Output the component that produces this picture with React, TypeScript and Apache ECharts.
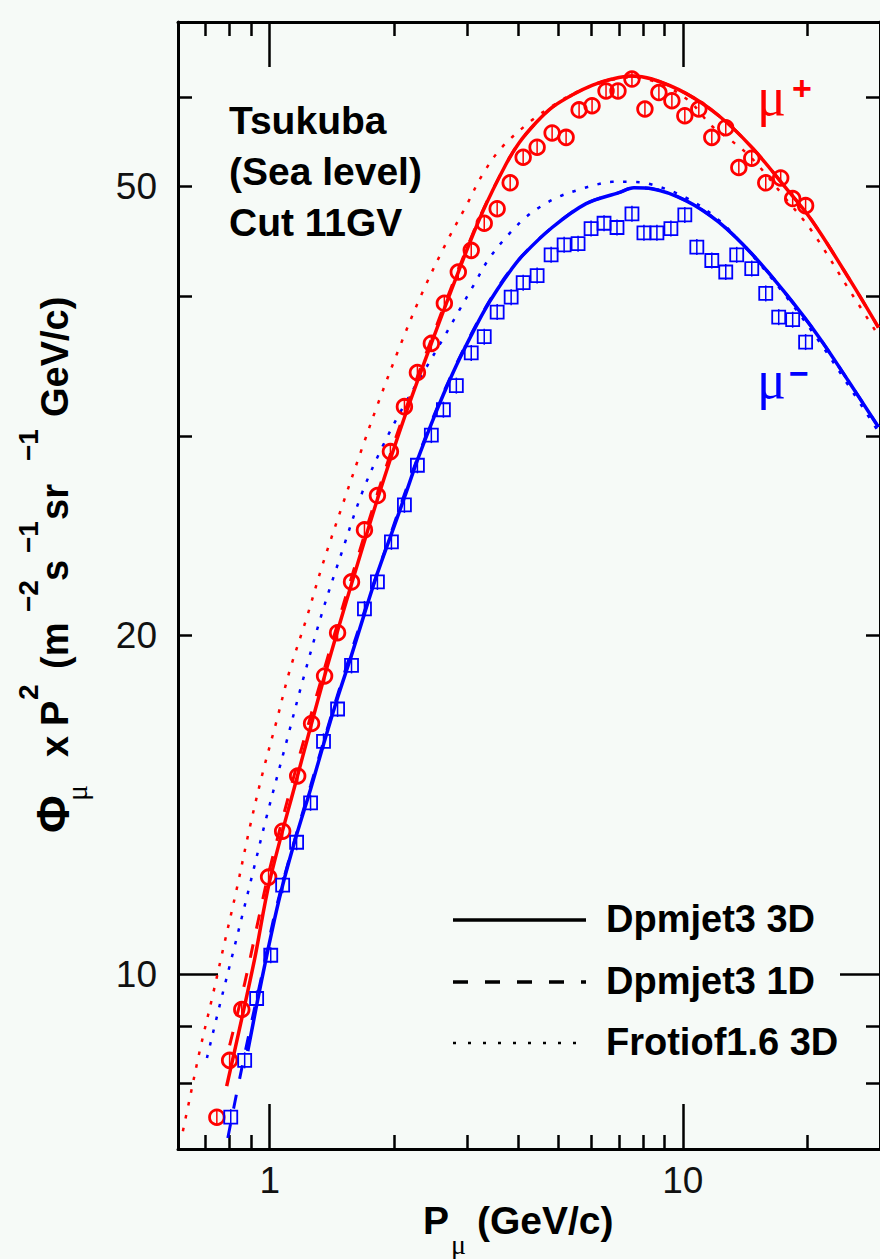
import React, { useEffect, useRef } from 'react';
import * as echarts from 'echarts';

const SANS = '"Liberation Sans", Arial, Helvetica, sans-serif';
const SERIF = '"Liberation Serif", "DejaVu Serif", serif';
const RED = '#ff0000';
const BLUE = '#0000ff';
const BG = '#f6faf7';

// ---- measured data points (momentum GeV/c, flux x P^2) ----
const P_MU_PLUS = [0.745, 0.800, 0.856, 0.994, 1.075, 1.169, 1.263, 1.358, 1.460, 1.578, 1.696, 1.823, 1.960, 2.119, 2.278, 2.462, 2.647, 2.861, 3.075, 3.306, 3.553, 3.820, 4.107, 4.439, 4.826, 5.217, 5.609, 6.029, 6.517, 6.966, 7.530, 8.095, 8.750, 9.407, 10.11, 10.93, 11.75, 12.70, 13.66, 14.68, 15.87, 17.25, 18.44, 19.82];
const FLUX_MU_PLUS = [7.47, 8.39, 9.31, 12.2, 13.4, 15.0, 16.7, 18.4, 20.1, 22.3, 24.8, 26.6, 29.1, 31.9, 34.2, 36.3, 39.4, 42.0, 43.9, 46.4, 47.8, 50.4, 53.1, 54.2, 55.8, 55.3, 58.5, 59.0, 60.8, 60.8, 62.3, 58.6, 60.6, 59.6, 57.8, 58.6, 55.3, 56.4, 52.0, 53.0, 50.4, 50.9, 48.8, 48.1];

const P_MU_MINUS = [0.805, 0.870, 0.930, 1.006, 1.075, 1.162, 1.256, 1.350, 1.460, 1.578, 1.696, 1.823, 1.971, 2.119, 2.278, 2.462, 2.633, 2.830, 3.075, 3.306, 3.553, 3.841, 4.107, 4.439, 4.799, 5.160, 5.577, 5.996, 6.445, 6.928, 7.530, 8.050, 8.654, 9.355, 10.11, 10.81, 11.75, 12.70, 13.50, 14.68, 15.87, 17.06, 18.44, 19.82];
const FLUX_MU_MINUS = [7.47, 8.39, 9.52, 10.4, 12.0, 13.1, 14.2, 16.1, 17.2, 18.8, 21.1, 22.3, 24.2, 26.1, 28.3, 30.1, 31.7, 33.3, 35.6, 36.8, 38.7, 39.9, 41.1, 41.7, 43.5, 44.4, 44.5, 45.9, 46.4, 46.0, 47.3, 45.5, 45.5, 45.9, 47.2, 44.2, 43.0, 42.0, 43.5, 42.3, 40.2, 38.3, 38.1, 36.4];

// ---- model curves ----
const DPM3D_PLUS_P = [0.787, 0.846, 0.920, 1.0, 1.162, 1.358, 1.578, 1.823, 2.119, 2.462, 2.861, 3.269, 3.737, 4.017, 4.415, 4.826, 5.394, 6.029, 6.738, 7.487, 8.417, 10.17, 12.22, 14.68, 17.73, 20.49, 25.60, 29.74];
const DPM3D_PLUS_FLUX = [7.96, 8.96, 10.33, 12.1, 14.9, 18.4, 22.2, 26.4, 31.2, 36.3, 42.0, 47.4, 52.4, 54.7, 57.0, 58.8, 60.3, 61.5, 62.3, 62.7, 62.3, 60.5, 57.8, 54.2, 49.9, 46.7, 41.1, 37.5];

const DPM1D_PLUS_P = [0.800, 0.870, 0.935, 1.0, 1.162, 1.358, 1.578, 1.823, 2.119, 2.462, 2.861, 3.269, 3.737, 4.017, 4.415, 4.826, 5.394, 6.029, 6.738, 7.487, 8.417, 10.17, 12.22, 14.68, 17.73, 20.49, 25.60, 29.74];
const DPM1D_PLUS_FLUX = [8.65, 9.82, 11.1, 12.4, 15.3, 18.7, 22.5, 26.7, 31.5, 36.6, 42.2, 47.5, 52.4, 54.7, 57.0, 58.8, 60.3, 61.5, 62.3, 62.7, 62.3, 60.5, 57.8, 54.2, 49.9, 46.7, 41.1, 37.5];

const FRI_PLUS_P = [0.6165, 0.641, 0.678, 0.728, 0.770, 0.832, 0.895, 0.962, 1.040, 1.118, 1.228, 1.343, 1.501, 1.668, 1.823, 2.061, 2.329, 2.677, 2.991, 3.269, 3.633, 4.294, 4.880, 5.609, 6.627, 7.530, 8.750, 10.34, 11.75, 13.13, 14.68, 17.73, 20.49, 25.60, 29.74];
const FRI_PLUS_FLUX = [7.26, 7.77, 8.57, 9.58, 10.5, 11.9, 13.5, 15.1, 16.8, 18.6, 20.7, 23.1, 26.1, 29.2, 32.0, 36.0, 40.1, 44.6, 48.1, 51.2, 54.1, 57.2, 59.1, 60.8, 62.1, 62.5, 61.8, 59.6, 56.6, 54.9, 53.0, 48.8, 45.7, 40.2, 36.9];

const DPM3D_MINUS_P = [0.885, 0.956, 1.028, 1.075, 1.162, 1.256, 1.350, 1.460, 1.578, 1.696, 1.823, 1.971, 2.119, 2.278, 2.462, 2.633, 2.830, 3.075, 3.306, 3.553, 3.841, 4.107, 4.826, 5.832, 7.004, 7.613, 8.417, 10.17, 12.22, 14.68, 17.73, 21.31, 25.18, 29.74];
const DPM3D_MINUS_FLUX = [8.55, 9.88, 11.2, 12.0, 13.3, 14.6, 16.0, 17.6, 19.2, 20.9, 22.7, 24.6, 26.5, 28.6, 30.8, 32.7, 34.7, 36.9, 38.8, 40.5, 42.2, 43.5, 46.0, 48.3, 49.4, 49.9, 49.8, 48.6, 46.5, 43.6, 40.2, 36.8, 33.6, 30.6];

const DPM1D_MINUS_P = [0.792, 0.837, 0.895, 0.956, 1.028, 1.118, 1.256, 1.460, 1.696, 1.971, 2.278, 2.633, 3.075, 3.553, 4.107, 4.826, 5.832, 7.004, 7.613, 8.417, 10.17, 12.22, 14.68, 17.73, 21.31, 25.18, 29.74];
const DPM1D_MINUS_FLUX = [7.16, 7.93, 8.92, 9.96, 11.3, 12.7, 14.7, 17.7, 21.0, 24.7, 28.7, 32.8, 37.0, 40.6, 43.5, 46.0, 48.3, 49.4, 49.9, 49.8, 48.6, 46.5, 43.6, 40.2, 36.8, 33.6, 30.6];

const FRI_MINUS_P = [0.705, 0.757, 0.823, 0.895, 0.983, 1.099, 1.201, 1.343, 1.501, 1.677, 1.875, 2.096, 2.342, 2.617, 2.877, 3.127, 3.400, 3.798, 4.176, 4.564, 5.018, 5.609, 6.165, 6.738, 7.406, 8.278, 10.17, 12.22, 14.68, 17.73, 21.31, 25.18, 29.74];
const FRI_MINUS_FLUX = [8.43, 9.39, 10.6, 12.0, 13.8, 16.1, 18.2, 21.0, 23.8, 26.8, 29.4, 31.8, 34.1, 36.55, 38.85, 40.97, 43.2, 45.4, 47.0, 48.1, 49.0, 49.7, 50.2, 50.5, 50.5, 50.3, 48.9, 46.7, 43.5, 40.0, 36.5, 33.3, 30.3];

// ---- axes ----
const X_MIN = 0.6;
const X_MAX = 30;
const Y_MIN = 7;
const Y_MAX = 70;
const X_MAJOR_TICKS = [1, 10];
const X_MINOR_TICKS = [0.7, 0.8, 0.9, 2, 3, 4, 5, 6, 7, 8, 9, 20];
const X_LABELS = [1, 10];
const Y_MAJOR_TICKS = [10];
const Y_MINOR_TICKS = [8, 9, 20, 30, 40, 50, 60];
const Y_LABELS = [10, 20, 50];

const LEGEND_NAMES = ['Dpmjet3 3D', 'Dpmjet3 1D', 'Frotiof1.6 3D'];
const INFO_LINES = ['Tsukuba', '(Sea level)', 'Cut 11GV'];

const pairs = (xs: number[], ys: number[]) => xs.map((x, i) => [x, ys[i]]);

function txt(x: number, y: number, text: string, size: number, opts: any = {}) {
  return {
    type: 'text',
    x,
    y,
    silent: true,
    style: {
      text,
      fontSize: size,
      fontWeight: opts.weight || 'bold',
      fontFamily: opts.family || SANS,
      fill: opts.color || '#000',
      align: opts.align || 'left',
      verticalAlign: 'middle',
      textAlign: opts.align || 'left',
      textVerticalAlign: 'middle',
    },
  };
}

function xAxisDef(position: 'top' | 'bottom', major: boolean, withLabels: boolean) {
  return {
    type: 'log',
    logBase: 10,
    gridIndex: 0,
    position,
    min: X_MIN,
    max: X_MAX,
    splitLine: { show: false },
    minorTick: { show: false },
    axisLine: { show: major, onZero: false, lineStyle: { color: '#000', width: 3 } },
    axisTick: {
      show: true,
      inside: true,
      length: major ? 45 : 14,
      lineStyle: { color: '#000', width: 2.5 },
      customValues: major ? X_MAJOR_TICKS : X_MINOR_TICKS,
    },
    axisLabel: withLabels
      ? {
          show: true,
          customValues: X_LABELS,
          formatter: (v: number) => String(v),
          fontSize: 37,
          fontFamily: SANS,
          color: '#111',
          margin: 13,
        }
      : { show: false },
  };
}

function yAxisDef(position: 'left' | 'right', major: boolean, withLabels: boolean) {
  return {
    type: 'log',
    logBase: 10,
    gridIndex: 0,
    position,
    min: Y_MIN,
    max: Y_MAX,
    splitLine: { show: false },
    minorTick: { show: false },
    axisLine: { show: major, onZero: false, lineStyle: { color: '#000', width: 3 } },
    axisTick: {
      show: true,
      inside: true,
      length: major ? 40 : 14,
      lineStyle: { color: '#000', width: 2.5 },
      customValues: major ? Y_MAJOR_TICKS : Y_MINOR_TICKS,
    },
    axisLabel: withLabels
      ? {
          show: true,
          customValues: Y_LABELS,
          formatter: (v: number) => String(v),
          fontSize: 37,
          fontFamily: SANS,
          color: '#111',
          margin: 21,
        }
      : { show: false },
  };
}

function curve(xs: number[], ys: number[], color: string, kind: 'solid' | 'dashed' | 'dotted') {
  const type = kind === 'solid' ? 'solid' : kind === 'dashed' ? [14, 16] : [3.5, 9.5];
  const width = kind === 'solid' ? 3.5 : kind === 'dashed' ? 3 : 2.5;
  return {
    type: 'line',
    xAxisIndex: 0,
    yAxisIndex: 0,
    data: pairs(xs, ys),
    smooth: 0.35,
    symbol: 'none',
    showSymbol: false,
    silent: true,
    z: 2,
    lineStyle: { color, width, type, cap: 'butt' },
  };
}

function markers(xs: number[], ys: number[], color: string, shape: 'circle' | 'square') {
  return {
    type: 'custom',
    xAxisIndex: 0,
    yAxisIndex: 0,
    data: pairs(xs, ys),
    silent: true,
    z: 3,
    encode: { x: 0, y: 1 },
    renderItem: (_params: any, api: any) => {
      const c = api.coord([api.value(0), api.value(1)]);
      const body =
        shape === 'circle'
          ? { type: 'circle', shape: { cx: c[0], cy: c[1], r: 7.3 }, style: { fill: 'none', stroke: color, lineWidth: 2.8 } }
          : { type: 'rect', shape: { x: c[0] - 6.5, y: c[1] - 6.5, width: 13, height: 13 }, style: { fill: 'none', stroke: color, lineWidth: 1.8 } };
      return {
        type: 'group',
        children: [
          body,
          { type: 'line', shape: { x1: c[0], y1: c[1] - 8, x2: c[0], y2: c[1] + 8 }, style: { stroke: color, lineWidth: 1.5 } },
        ],
      };
    },
  };
}

export default function App() {
  const ref = useRef<HTMLDivElement>(null);

  useEffect(() => {
    if (!ref.current) return;
    const chart = echarts.init(ref.current, null, { renderer: 'svg' });

    // y-axis title pieces placed along rotated baseline (local x: along text, local y: below baseline)
    const yTitle = {
      type: 'group',
      x: 68,
      y: 833,
      rotation: Math.PI / 2,
      silent: true,
      children: [
        txt(0, -15, 'Φ', 46),
        txt(32, 8, 'μ', 30, { family: SERIF, weight: 'normal' }),
        txt(76, -13, 'x', 38),
        txt(107, -13, 'P', 38),
        txt(133, -40, '2', 28),
        txt(164, -13, '(m', 38),
        txt(221, -40, '−2', 28),
        txt(252, -13, 's', 38),
        txt(280, -40, '−1', 28),
        txt(313, -13, 'sr', 38),
        txt(372, -40, '−1', 28),
        txt(416, -13, 'GeV/c)', 38),
      ],
    };

    const legendY = [920, 982, 1043];
    const legendDash: any[] = [null, [15, 17], [3, 12]];
    const legendWidth = [3.5, 3.5, 2.5];

    const graphics: any[] = [
      ...INFO_LINES.map((t, i) => txt(229, 120 + i * 51, t, 39)),
      ...LEGEND_NAMES.map((t, i) => ({
        type: 'line',
        silent: true,
        shape: { x1: 453, y1: legendY[i], x2: 586, y2: legendY[i] },
        style: { stroke: '#000', lineWidth: legendWidth[i], lineDash: legendDash[i] || undefined },
      })),
      ...LEGEND_NAMES.map((t, i) => txt(606, legendY[i] - 1, t, 38)),
      txt(757, 97, 'μ', 54, { family: SERIF, weight: 'normal', color: RED }),
      txt(792, 88, '+', 34, { color: RED }),
      txt(757, 380, 'μ', 54, { family: SERIF, weight: 'normal', color: BLUE }),
      txt(789, 373, '−', 34, { color: BLUE }),
      txt(423, 1220, 'P', 39),
      txt(451, 1244, 'μ', 28, { family: SERIF, weight: 'normal' }),
      txt(477, 1220, '(GeV/c)', 39),
      yTitle,
    ];

    const option: any = {
      animation: false,
      backgroundColor: BG,
      grid: { left: 178, top: 22, width: 704, height: 1127, containLabel: false },
      xAxis: [
        xAxisDef('bottom', true, true),
        xAxisDef('bottom', false, false),
        xAxisDef('top', true, false),
        xAxisDef('top', false, false),
      ],
      yAxis: [
        yAxisDef('left', true, true),
        yAxisDef('left', false, false),
        yAxisDef('right', true, false),
        yAxisDef('right', false, false),
      ],
      series: [
        curve(FRI_PLUS_P, FRI_PLUS_FLUX, RED, 'dotted'),
        curve(FRI_MINUS_P, FRI_MINUS_FLUX, BLUE, 'dotted'),
        curve(DPM1D_PLUS_P, DPM1D_PLUS_FLUX, RED, 'dashed'),
        curve(DPM1D_MINUS_P, DPM1D_MINUS_FLUX, BLUE, 'dashed'),
        curve(DPM3D_PLUS_P, DPM3D_PLUS_FLUX, RED, 'solid'),
        curve(DPM3D_MINUS_P, DPM3D_MINUS_FLUX, BLUE, 'solid'),
        markers(P_MU_PLUS, FLUX_MU_PLUS, RED, 'circle'),
        markers(P_MU_MINUS, FLUX_MU_MINUS, BLUE, 'square'),
      ],
      graphic: graphics,
    };

    chart.setOption(option);
    return () => chart.dispose();
  }, []);

  return (
    <div
      ref={ref}
      style={{ position: 'absolute', left: 0, top: 0, width: 880, height: 1259, background: BG }}
    />
  );
}
